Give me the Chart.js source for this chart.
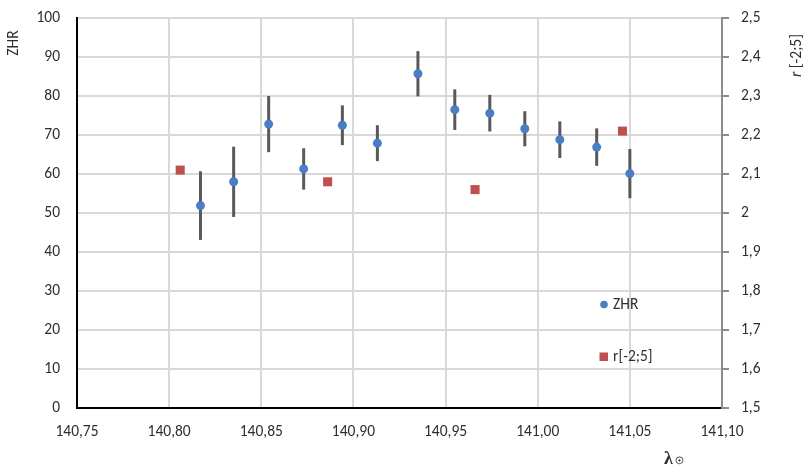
<!DOCTYPE html>
<html>
<head>
<meta charset="utf-8">
<script src="https://cdn.jsdelivr.net/npm/chart.js@4"></script>
<style>
  html, body { margin: 0; padding: 0; background: #fff; }
</style>
</head>
<body>
<canvas id="myChart" width="808" height="470"></canvas>
<script>
// solar longitude of each ZHR bin, the ZHR value and its error
const zhrX = [140.817, 140.835, 140.854, 140.873, 140.894, 140.913, 140.935, 140.955, 140.974, 140.993, 141.012, 141.032, 141.050];
const zhrVal = [51.9, 58.0, 72.8, 61.3, 72.5, 67.9, 85.7, 76.5, 75.6, 71.6, 68.8, 66.9, 60.1];
const zhrErr = [8.8, 9.0, 7.2, 5.3, 5.1, 4.6, 5.8, 5.2, 4.7, 4.5, 4.7, 4.8, 6.3];

// population index r[-2;5]
const rX = [140.806, 140.886, 140.966, 141.046];
const rVal = [2.11, 2.08, 2.06, 2.21];

const xTicks = [140.75, 140.80, 140.85, 140.90, 140.95, 141.00, 141.05, 141.10];

const FONT = "Carlito, Calibri, Lato, sans-serif";
const FSIZE = 15.5;
const TEXT = "#2e2e2e";
const GRID = "#d9d9d9";

function comma(v, d) {
  return (d === undefined ? String(+v.toFixed(2)) : v.toFixed(d)).replace(".", ",");
}

// fixed axis sizes so the plot box stays put
function fixY(w) {
  return (s) => { s.width = w; s.paddingTop = 0; s.paddingBottom = 0; };
}

const errorBars = {
  id: "errorBars",
  beforeDatasetsDraw(chart) {
    const ctx = chart.ctx;
    const x = chart.scales.x;
    const y = chart.scales.y;
    ctx.save();
    ctx.strokeStyle = "#595959";
    ctx.lineWidth = 3;
    zhrX.forEach((v, i) => {
      const px = x.getPixelForValue(v);
      ctx.beginPath();
      ctx.moveTo(px, y.getPixelForValue(zhrVal[i] + zhrErr[i]));
      ctx.lineTo(px, y.getPixelForValue(zhrVal[i] - zhrErr[i]));
      ctx.stroke();
    });
    ctx.restore();
  }
};

// axis titles and the little legend inside the plot
const extras = {
  id: "extras",
  afterDraw(chart) {
    const ctx = chart.ctx;
    ctx.save();
    ctx.fillStyle = TEXT;
    ctx.textBaseline = "middle";

    // left title
    ctx.save();
    ctx.translate(14, 43);
    ctx.rotate(-Math.PI / 2);
    ctx.font = FSIZE + "px " + FONT;
    ctx.textAlign = "center";
    ctx.fillText("ZHR", 0, 0);
    ctx.restore();

    // right title, italic r
    ctx.save();
    ctx.translate(797, 77);
    ctx.rotate(-Math.PI / 2);
    ctx.textAlign = "left";
    ctx.font = "italic " + FSIZE + "px " + FONT;
    ctx.fillText("r", 0, 0);
    const w = ctx.measureText("r").width;
    ctx.font = FSIZE + "px " + FONT;
    ctx.fillText(" [-2;5]", w, 0);
    ctx.restore();

    // bottom title
    ctx.textBaseline = "alphabetic";
    ctx.textAlign = "left";
    ctx.font = "bold 18px 'Liberation Serif', 'DejaVu Serif', serif";
    ctx.fillText("λ", 664, 464);
    ctx.font = "bold 10px 'DejaVu Serif', serif";
    ctx.fillText("☉", 675, 464);

    // legend
    ctx.textBaseline = "middle";
    ctx.font = FSIZE + "px " + FONT;
    const ds = chart.data.datasets;
    ctx.fillStyle = ds[0].backgroundColor;
    ctx.beginPath();
    ctx.arc(604, 304.5, 3.8, 0, Math.PI * 2);
    ctx.fill();
    ctx.fillStyle = ds[1].backgroundColor;
    ctx.fillRect(599.5, 352.5, 8.5, 8.5);
    ctx.fillStyle = TEXT;
    ctx.fillText("ZHR", 613, 305);
    ctx.fillText("r[-2;5]", 613, 357);
    ctx.restore();
  }
};

const myChart = new Chart(document.getElementById("myChart"), {
  type: "scatter",
  data: {
    datasets: [
      {
        label: "ZHR",
        data: zhrX.map((x, i) => ({ x: x, y: zhrVal[i] })),
        backgroundColor: "#4a7ec4",
        borderWidth: 0,
        pointRadius: 4.5,
        yAxisID: "y"
      },
      {
        label: "r[-2;5]",
        data: rX.map((x, i) => ({ x: x, y: rVal[i] })),
        backgroundColor: "#c0504d",
        borderWidth: 0,
        pointStyle: "rect",
        pointRadius: 6.4,
        yAxisID: "y2"
      }
    ]
  },
  options: {
    responsive: false,
    animation: false,
    layout: { padding: { top: 18, left: 0, right: 0, bottom: 0 } },
    plugins: {
      legend: { display: false },
      tooltip: { enabled: false }
    },
    scales: {
      x: {
        type: "linear",
        min: 140.75,
        max: 141.10,
        afterBuildTicks: (s) => { s.ticks = xTicks.map(v => ({ value: v })); },
        afterFit: (s) => { s.height = 62; s.paddingLeft = 0; s.paddingRight = 0; },
        grid: {
          color: (c) => (c.tick && (c.tick.value === 140.75 || c.tick.value === 141.10)) ? "rgba(0,0,0,0)" : GRID,
          lineWidth: 2,
          drawTicks: false
        },
        border: { color: "#000", width: 2 },
        ticks: {
          padding: 15,
          maxRotation: 0,
          color: TEXT,
          font: { family: FONT, size: FSIZE },
          callback: (v) => comma(v, 2)
        }
      },
      y: {
        position: "left",
        min: 0,
        max: 100,
        afterFit: fixY(77),
        grid: {
          color: (c) => (c.tick && c.tick.value === 0) ? "rgba(0,0,0,0)" : GRID,
          lineWidth: 2,
          drawTicks: false
        },
        border: { color: "#000", width: 2 },
        ticks: {
          stepSize: 10,
          padding: 17,
          color: TEXT,
          font: { family: FONT, size: FSIZE }
        }
      },
      y2: {
        position: "right",
        min: 1.5,
        max: 2.5,
        afterFit: fixY(86),
        grid: {
          drawOnChartArea: false,
          drawTicks: true,
          tickLength: 7,
          tickColor: "#8c8c8c",
          lineWidth: 2
        },
        border: { color: "#8c8c8c", width: 2 },
        ticks: {
          stepSize: 0.1,
          padding: 12,
          color: TEXT,
          font: { family: FONT, size: FSIZE },
          callback: (v) => comma(v)
        }
      }
    }
  },
  plugins: [errorBars, extras]
});
</script>
</body>
</html>
